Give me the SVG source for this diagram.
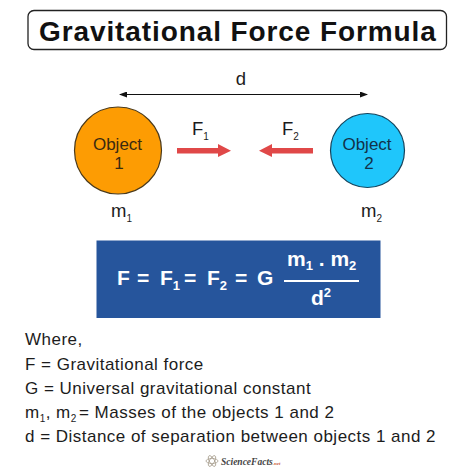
<svg xmlns="http://www.w3.org/2000/svg" width="474" height="474" viewBox="0 0 474 474">
<style>
text{font-family:"Liberation Sans",Arial,sans-serif;fill:#1c1c1c}
.b{font-weight:700}
.d{font-size:17px;letter-spacing:.48px}
.l{font-size:18.500px}
.s{font-size:10px}
.w{fill:#fff;font-weight:700;font-size:21px}
.u{font-size:13px}
.o{fill:#3a2a10;font-size:17px;text-anchor:middle}
.r{fill:#e04848}
.a{fill:none;stroke:#a8a090;stroke-width:.8}
</style>
<defs>
<marker id="h" viewBox="0 0 8 6" refX="7" refY="3" markerWidth="8" markerHeight="6" markerUnits="userSpaceOnUse" orient="auto-start-reverse"><path d="M0 0L8 3L0 6Z" fill="#111"/></marker>
</defs>
<rect width="474" height="474" fill="#fff"/>
<g id="title"><rect x="28" y="10.500" width="418.500" height="39" rx="6" fill="#fff" stroke="#222" stroke-width="1.300"/>
<text class="b" x="39" y="40.500" font-size="28" letter-spacing=".9" style="fill:#111">Gravitational Force Formula</text></g>
<g id="connectors">
<line x1="120" y1="94.500" x2="367" y2="94.500" stroke="#111" stroke-width="1.100" marker-start="url(#h)" marker-end="url(#h)"/>
<path class="r" d="M177 148H218V144L231 150.700L218 157V153.500H177Z"/>
<path class="r" d="M313 148H272V144L259 150.700L272 157V153.500H313Z"/>
</g>
<text x="241" y="85" class="l" text-anchor="middle">d</text>
<g id="object1"><circle cx="118" cy="150.500" r="43.500" fill="#fd9c03" stroke="#4a3a1c" stroke-width="1.200"/>
<text class="o" x="117.500" y="150">Object</text><text class="o" x="119" y="169">1</text></g>
<g id="object2"><circle cx="367.500" cy="150.500" r="37" fill="#1fc6fb" stroke="#16445c" stroke-width="1.200"/>
<text class="o" x="367" y="150" style="fill:#12324a">Object</text><text class="o" x="369" y="169" style="fill:#12324a">2</text></g>
<text class="l" x="192" y="135">F<tspan class="s" dy="5">1</tspan></text>
<text class="l" x="282" y="135">F<tspan class="s" dy="5">2</tspan></text>
<text class="l" x="111" y="217">m<tspan class="s" dy="5">1</tspan></text>
<text class="l" x="361" y="217">m<tspan class="s" dy="5">2</tspan></text>
<g id="formula"><rect x="96.500" y="240.500" width="284" height="77.500" fill="#26559c"/>
<text class="w" x="117" y="285">F</text>
<text class="w" x="137" y="285">=</text>
<text class="w" x="160" y="285">F<tspan class="u" dy="5">1</tspan></text>
<text class="w" x="184" y="285">=</text>
<text class="w" x="207" y="285">F<tspan class="u" dy="5">2</tspan></text>
<text class="w" x="235" y="285">=</text>
<text class="w" x="257" y="285">G</text>
<text class="w" x="287" y="266">m<tspan class="u" dy="4">1</tspan><tspan dy="-4"> . m</tspan><tspan class="u" dy="4">2</tspan></text>
<rect x="284" y="280" width="75" height="2" fill="#fff"/>
<text class="w" x="311" y="305">d<tspan class="u" dy="-8">2</tspan></text></g>
<g id="legend">
<text class="d" x="25" y="345">Where,</text>
<text class="d" x="25" y="369.500">F = Gravitational force</text>
<text class="d" x="25" y="393.500">G = Universal gravitational constant</text>
<text class="d" x="25" y="418">m<tspan class="s" dy="4">1</tspan><tspan dy="-4">, m</tspan><tspan class="s" dy="4">2</tspan><tspan dy="-4" x="79">= Masses of the objects 1 and 2</tspan></text>
<text class="d" x="25" y="442">d = Distance of separation between objects 1 and 2</text>
</g>
<g id="logo"><g transform="translate(212 461)"><ellipse class="a" rx="6" ry="2.500"/><ellipse class="a" rx="6" ry="2.500" transform="rotate(60)"/><ellipse class="a" rx="6" ry="2.500" transform="rotate(120)"/></g>
<text x="221" y="465" font-size="9.500" style="font-family:'Liberation Serif',serif;font-style:italic;font-weight:700;fill:#444">ScienceFacts<tspan font-size="5" style="fill:#c9603a">.net</tspan></text></g>
</svg>
